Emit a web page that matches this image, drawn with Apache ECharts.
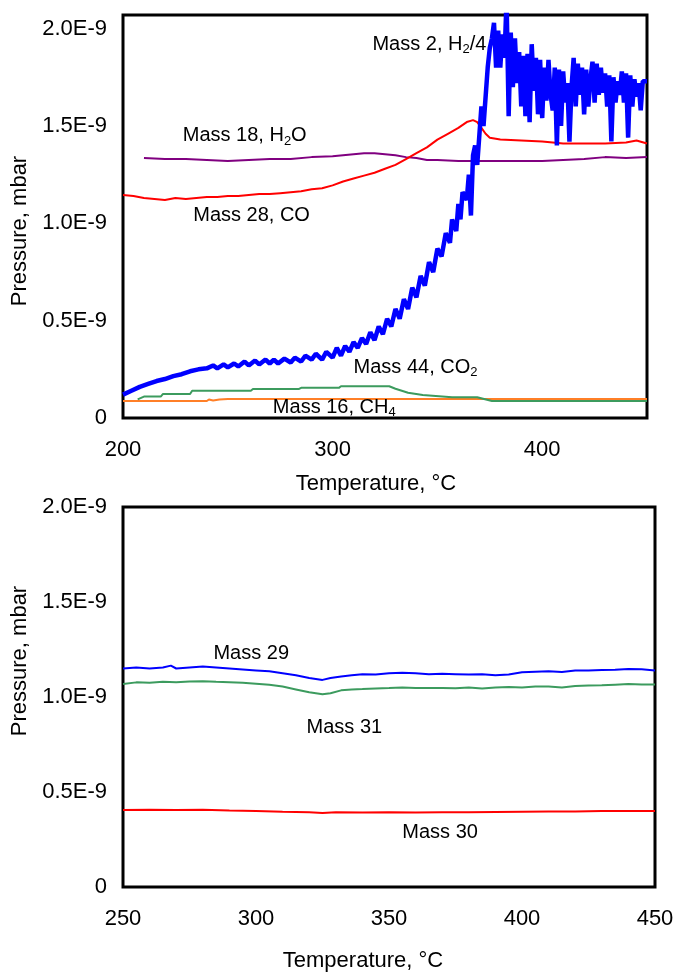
<!DOCTYPE html>
<html>
<head>
<meta charset="utf-8">
<script src="https://cdn.jsdelivr.net/npm/echarts@6/dist/echarts.min.js"></script>
<style>
html, body { margin: 0; padding: 0; background: #fff; }
#main { width: 678px; height: 973px; }
</style>
</head>
<body>
<div id="main"></div>
<script>
// pressures in units of 1E-9 mbar, temperatures in °C

// top panel
var mass2 = [
  [200, 0.12], [204, 0.14], [208, 0.16], [212, 0.175], [216, 0.19], [220, 0.20], [224, 0.215],
  [228, 0.225], [232, 0.24], [236, 0.25], [240, 0.255], [243, 0.27], [245, 0.255], [248, 0.275],
  [250, 0.26], [253, 0.28], [255, 0.265], [258, 0.29], [260, 0.27], [263, 0.295], [265, 0.275],
  [268, 0.30], [270, 0.28], [272, 0.30], [274, 0.28], [277, 0.305], [280, 0.285], [282, 0.31],
  [285, 0.29], [287, 0.32], [290, 0.30], [292, 0.33], [295, 0.30], [297, 0.34], [300, 0.31],
  [302, 0.36], [304, 0.32], [306, 0.37], [308, 0.34], [310, 0.39], [312, 0.36], [314, 0.41],
  [316, 0.38], [318, 0.44], [320, 0.40], [322, 0.47], [324, 0.43], [326, 0.51], [328, 0.47],
  [330, 0.56], [332, 0.51], [334, 0.61], [336, 0.56], [338, 0.67], [340, 0.62], [342, 0.73],
  [344, 0.68], [346, 0.80], [348, 0.75], [350, 0.87], [352, 0.83], [354, 0.95], [356, 0.90],
  [357, 1.02], [359, 0.96], [360, 1.10], [361, 1.02], [362, 1.16], [364, 1.12], [365, 1.25],
  [366, 1.04], [367, 1.35], [368, 1.40], [369, 1.30], [370, 1.45], [371, 1.60], [372, 1.50],
  [373, 1.65], [374, 1.80], [375, 1.90], [376, 1.95], [377, 2.03], [378, 1.80], [379, 1.99],
  [380, 1.80], [381, 1.97], [382, 1.85], [383, 2.15], [384, 1.55], [385, 1.98], [386, 1.70],
  [387, 1.95], [388, 1.72], [389, 1.88], [390, 1.60], [391, 1.86], [392, 1.55], [393, 1.87],
  [394, 1.52], [395, 1.92], [396, 1.68], [397, 1.85], [398, 1.56], [399, 1.84], [400, 1.54],
  [401, 1.80], [402, 1.63], [403, 1.84], [404, 1.66], [405, 1.58], [406, 1.80], [407, 1.40],
  [408, 1.79], [409, 1.50], [410, 1.78], [411, 1.62], [412, 1.72], [413, 1.42], [414, 1.70],
  [415, 1.85], [416, 1.60], [417, 1.82], [418, 1.66], [419, 1.80], [420, 1.56], [421, 1.79],
  [422, 1.60], [423, 1.74], [424, 1.83], [425, 1.62], [426, 1.82], [427, 1.66], [428, 1.80],
  [429, 1.67], [430, 1.77], [431, 1.60], [432, 1.76], [433, 1.42], [434, 1.75], [435, 1.62],
  [436, 1.73], [437, 1.66], [438, 1.78], [439, 1.62], [440, 1.77], [441, 1.44], [442, 1.76],
  [443, 1.60], [444, 1.74], [445, 1.65], [446, 1.72], [447, 1.58], [448, 1.73], [450, 1.73]
];
var mass28 = [
  [200, 1.145], [205, 1.14], [210, 1.13], [215, 1.125], [220, 1.12], [225, 1.13], [230, 1.125],
  [235, 1.13], [240, 1.135], [245, 1.135], [250, 1.14], [255, 1.14], [260, 1.145], [265, 1.15],
  [270, 1.15], [275, 1.155], [280, 1.16], [285, 1.165], [290, 1.175], [295, 1.18], [300, 1.195],
  [305, 1.215], [310, 1.23], [315, 1.245], [320, 1.26], [325, 1.28], [330, 1.30], [335, 1.33],
  [340, 1.36], [345, 1.39], [350, 1.43], [355, 1.46], [360, 1.49], [364, 1.52], [367, 1.53],
  [369, 1.52], [371, 1.49], [373, 1.46], [375, 1.44], [380, 1.43], [390, 1.425], [400, 1.42],
  [410, 1.41], [420, 1.41], [430, 1.41], [440, 1.415], [445, 1.425], [450, 1.41]
];
var mass18 = [
  [210, 1.335], [220, 1.33], [230, 1.33], [240, 1.325], [250, 1.32], [260, 1.325], [270, 1.33],
  [280, 1.33], [290, 1.34], [300, 1.345], [310, 1.355], [315, 1.36], [320, 1.36], [325, 1.355],
  [330, 1.35], [335, 1.34], [340, 1.335], [345, 1.325], [350, 1.325], [360, 1.32], [370, 1.32],
  [380, 1.32], [390, 1.32], [400, 1.32], [410, 1.325], [420, 1.33], [430, 1.34], [440, 1.335],
  [450, 1.34]
];
var mass44 = [
  [207, 0.096], [210, 0.11], [218, 0.11], [219, 0.123], [232, 0.123], [233, 0.14], [261, 0.14],
  [262, 0.149], [284, 0.149], [285, 0.155], [303, 0.155], [304, 0.163], [327, 0.163], [330, 0.15],
  [336, 0.13], [343, 0.118], [357, 0.107], [369, 0.107], [376, 0.087], [450, 0.087]
];
var mass16 = [
  [200, 0.087], [240, 0.087], [241, 0.095], [243, 0.09], [246, 0.095], [250, 0.097], [300, 0.098],
  [450, 0.098]
];

// bottom panel
var mass29 = [
  [250, 1.15], [255, 1.155], [260, 1.15], [265, 1.155], [268, 1.165], [270, 1.15], [275, 1.155],
  [280, 1.16], [285, 1.155], [290, 1.15], [295, 1.145], [300, 1.14], [305, 1.135], [310, 1.125],
  [315, 1.115], [320, 1.10], [325, 1.09], [328, 1.10], [332, 1.108], [336, 1.115], [340, 1.12],
  [345, 1.118], [350, 1.125], [355, 1.128], [360, 1.125], [365, 1.12], [370, 1.122], [375, 1.12],
  [380, 1.118], [385, 1.12], [390, 1.115], [395, 1.118], [400, 1.13], [405, 1.133], [410, 1.135],
  [415, 1.132], [420, 1.14], [425, 1.14], [430, 1.142], [435, 1.143], [440, 1.148], [445, 1.146],
  [450, 1.14]
];
var mass31 = [
  [250, 1.068], [255, 1.077], [260, 1.075], [265, 1.08], [270, 1.078], [275, 1.082], [280, 1.083],
  [285, 1.08], [290, 1.078], [295, 1.075], [300, 1.07], [305, 1.065], [310, 1.055], [315, 1.04],
  [320, 1.025], [325, 1.015], [328, 1.02], [332, 1.035], [336, 1.04], [340, 1.042], [345, 1.045],
  [350, 1.047], [355, 1.05], [360, 1.048], [365, 1.047], [370, 1.048], [375, 1.046], [380, 1.05],
  [385, 1.045], [390, 1.05], [395, 1.052], [400, 1.05], [405, 1.055], [410, 1.055], [415, 1.05],
  [420, 1.058], [425, 1.06], [430, 1.062], [435, 1.065], [440, 1.068], [445, 1.066], [450, 1.066]
];
var mass30 = [
  [250, 0.405], [260, 0.407], [270, 0.405], [280, 0.407], [290, 0.402], [300, 0.40], [310, 0.396],
  [320, 0.393], [325, 0.39], [330, 0.393], [340, 0.392], [350, 0.393], [360, 0.392], [370, 0.394],
  [380, 0.393], [390, 0.395], [400, 0.396], [410, 0.397], [420, 0.398], [430, 0.40], [440, 0.40],
  [450, 0.40]
];

// label anchors (left edge of text), [temperature, pressure, text]
var topLabels = [
  [319, 1.92, 'Mass 2, H{s|2}/4'],
  [228.5, 1.45, 'Mass 18, H{s|2}O'],
  [233.5, 1.04, 'Mass 28, CO'],
  [310, 0.26, 'Mass 44, CO{s|2}'],
  [271.5, 0.056, 'Mass 16, CH{s|4}']
];
var bottomLabels = [
  [284, 1.23, 'Mass 29'],
  [319, 0.84, 'Mass 31'],
  [355, 0.285, 'Mass 30']
];

var font = "'Liberation Sans', Arial, sans-serif";

function yFmt(v) {
  return v === 0 ? '0' : v.toFixed(1) + 'E-9';
}

function line(data, color, width, idx) {
  return {
    type: 'line', data: data, xAxisIndex: idx, yAxisIndex: idx,
    showSymbol: false, symbol: 'none',
    lineStyle: { color: color, width: width }
  };
}

function labels(data, idx) {
  return {
    type: 'scatter', xAxisIndex: idx, yAxisIndex: idx, symbolSize: 0, silent: true,
    itemStyle: { opacity: 1 },
    data: data.map(function (d) { return { value: [d[0], d[1]], text: d[2] }; }),
    label: {
      show: true, position: 'right', distance: 0, color: '#000', opacity: 1,
      fontFamily: font, fontSize: 20,
      formatter: function (p) { return p.data.text; },
      rich: { s: { fontSize: 13, fontFamily: font, color: '#000', padding: [11, 0, 0, 0] } }
    },
    z: 10
  };
}

var tickLabel = { color: '#000', fontSize: 22, fontFamily: font };
var nameStyle = { color: '#000', fontSize: 22, fontFamily: font };

var chart = echarts.init(document.getElementById('main'));
chart.setOption({
  animation: false,
  backgroundColor: '#fff',
  grid: [
    { left: 123, top: 15, width: 524, height: 403, show: true, borderColor: '#000', borderWidth: 3, backgroundColor: 'transparent' },
    { left: 123, top: 507, width: 532, height: 380, show: true, borderColor: '#000', borderWidth: 3, backgroundColor: 'transparent' }
  ],
  xAxis: [{
    gridIndex: 0, type: 'value', min: 200, max: 450, interval: 100,
    name: 'Temperature, °C', nameLocation: 'middle', nameGap: 55,
    nameTextStyle: Object.assign({ padding: [0, 18, 0, 0] }, nameStyle),
    axisLine: { show: false }, axisTick: { show: false }, splitLine: { show: false },
    axisLabel: Object.assign({ margin: 21, showMaxLabel: false }, tickLabel)
  }, {
    gridIndex: 1, type: 'value', min: 250, max: 450, interval: 50,
    name: 'Temperature, °C', nameLocation: 'middle', nameGap: 63,
    nameTextStyle: Object.assign({ padding: [0, 52, 0, 0] }, nameStyle),
    axisLine: { show: false }, axisTick: { show: false }, splitLine: { show: false },
    axisLabel: Object.assign({ margin: 21 }, tickLabel)
  }],
  yAxis: [{
    gridIndex: 0, type: 'value', min: 0, max: 2.07, interval: 0.5,
    name: 'Pressure, mbar', nameLocation: 'middle', nameGap: 91,
    nameTextStyle: Object.assign({ padding: [0, 29, 0, 0] }, nameStyle),
    axisLine: { show: false }, axisTick: { show: false }, splitLine: { show: false },
    axisLabel: Object.assign({ margin: 16, showMaxLabel: false, formatter: yFmt }, tickLabel)
  }, {
    gridIndex: 1, type: 'value', min: 0, max: 2.0, interval: 0.5,
    name: 'Pressure, mbar', nameLocation: 'middle', nameGap: 86,
    nameTextStyle: Object.assign({ padding: [0, 0, 0, 72] }, nameStyle),
    axisLine: { show: false }, axisTick: { show: false }, splitLine: { show: false },
    axisLabel: Object.assign({ margin: 16, formatter: yFmt }, tickLabel)
  }],
  series: [
    line(mass16, '#ff7f27', 2, 0),
    line(mass44, '#3c9b5e', 2, 0),
    line(mass18, '#800080', 2, 0),
    line(mass28, '#ff0000', 2, 0),
    line(mass2, '#0000ff', 4.5, 0),
    labels(topLabels, 0),
    line(mass30, '#ff0000', 2, 1),
    line(mass31, '#3c9b5e', 2, 1),
    line(mass29, '#0000ff', 2, 1),
    labels(bottomLabels, 1)
  ]
});

window.addEventListener('resize', chart.resize);
</script>
</body>
</html>
